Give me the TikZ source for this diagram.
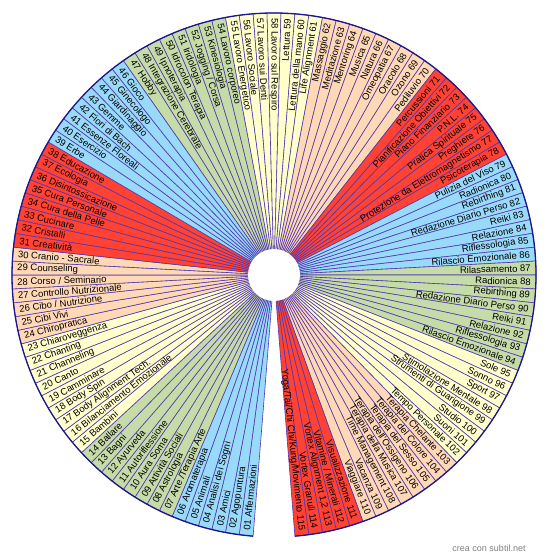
\documentclass[tikz,border=0pt]{standalone}
\usepackage{fontspec}
\setmainfont{Liberation Sans}
\definecolor{cB}{RGB}{153,217,250}
\definecolor{cG}{RGB}{198,220,168}
\definecolor{cY}{RGB}{255,255,204}
\definecolor{cP}{RGB}{255,216,182}
\definecolor{cR}{RGB}{255,66,52}
\definecolor{segline}{RGB}{80,56,176}
\definecolor{rim}{RGB}{28,24,140}
\begin{document}
\def\items{1/cB/{01 Affermazioni},2/cB/{02 Agopuntura},3/cB/{03 Amici},4/cB/{04 Analisi dei Sogni},5/cB/{05 Animali},6/cB/{06 Aromaterapia},
7/cG/{07 Arte /Terapia Arte},8/cG/{08 Astrologia},9/cG/{09 Attività Sociali},10/cG/{10 Aura Soma},11/cG/{11 Autoriflessione},12/cG/{12 Ayurveda},13/cG/{13 Bagni},14/cG/{14 Ballare},
15/cY/{15 Bambini},16/cY/{16 Bilanciamento Emozionale},17/cY/{17 Body Alignment Tech.},18/cY/{18 Body Spin},19/cY/{19 Camminare},20/cY/{20 Canto},21/cY/{21 Channeling},22/cY/{22 Chanting},23/cY/{23 Chiaroveggenza},
24/cP/{24 Chiropratica},25/cP/{25 Cibi Vivi},26/cP/{26 Cibo / Nutrizione},27/cP/{27 Controllo Nutrizionale},28/cP/{28 Corso / Seminario},29/cP/{29 Counseling},30/cP/{30 Cranio - Sacrale},
31/cR/{31 Creatività},32/cR/{32 Cristalli},33/cR/{33 Cucinare},34/cR/{34 Cura della Pelle},35/cR/{35 Cura Personale},36/cR/{36 Disintossicazione},37/cR/{37 Ecologia},38/cR/{38 Educazione},
39/cB/{39 Erbe},40/cB/{40 Esercizio},41/cB/{41 Essenze Floreali},42/cB/{42 Fiori di Bach},43/cB/{43 Gemme},44/cB/{44 Giardinaggio},45/cB/{45 Ginecologo},46/cB/{46 Gioco},
47/cG/{47 Hobby},48/cG/{48 Integrazione Cerebrale},49/cG/{49 Ipnoterapia},50/cG/{50 Idrocolon Terapia},51/cG/{51 Iridologia},52/cG/{52 Jogging / Corsa},53/cG/{53 Kinesiologia},54/cG/{54 Lavoro corporeo},
55/cY/{55 Lavoro Energetico},56/cY/{56 Lavoro Sociale},57/cY/{57 Lavoro sui Denti},58/cY/{58 Lavoro sul Respiro},59/cY/{Lettura 59},60/cY/{Lettura della mano 60},61/cY/{Life Alignment 61},
62/cP/{Massaggio 62},63/cP/{Meditazione 63},64/cP/{Mentoring 64},65/cP/{Musica 65},66/cP/{Natura 66},67/cP/{Omeopatia 67},68/cP/{Oracolo 68},69/cP/{Ozono 69},70/cP/{Pediluvio 70},
71/cR/{Percussioni 71},72/cR/{Pianificazione Obiettivi 72},73/cR/{Piano Finanziario 73},74/cR/{P.N.L. 74},75/cR/{Pratica Spirituale 75},76/cR/{Preghiere 76},77/cR/{Protezione da Elettromagnetismo 77},78/cR/{Psicoterapia 78},
79/cB/{Pulizia del Viso 79},80/cB/{Radionica 80},81/cB/{Rebirthing 81},82/cB/{Redazione Diario Perso 82},83/cB/{Reiki 83},84/cB/{Relazione 84},85/cB/{Riflessologia 85},86/cB/{Rilascio Emozionale 86},
87/cG/{Rilassamento 87},88/cG/{Radionica 88},89/cG/{Rebirthing 89},90/cG/{Redazione Diario Perso 90},91/cG/{Reiki 91},92/cG/{Relazione 92},93/cG/{Riflessologia 93},94/cG/{Rilascio Emozionale 94},
95/cY/{Sole 95},96/cY/{Sonno 96},97/cY/{Sport 97},98/cY/{Stimolazione Mentale 98},99/cY/{Strumenti di Guarigione 99},100/cY/{Studio 100},101/cY/{Suoni 101},102/cY/{Tempo Personale 102},
103/cP/{Terapia Chelante 103},104/cP/{Terapia del Colore 104},105/cP/{Terapia del Sesso 105},106/cP/{Terapia dell'Ossigeno 106},107/cP/{Terapia della Musica 107},108/cP/{Time Management 108},109/cP/{Vacanza 109},110/cP/{Viaggiare 110},
111/cR/{Visualizzazione 111},112/cR/{Vitamine / Minerali 112},113/cR/{Vortex Alignment 1,2 113},114/cR/{Vortex Granuli 114},115/cR/{Yoga/Tai/Chi Chi/Kung/Movimento 115}}
\begin{tikzpicture}[x=1pt,y=1pt,
  lbl/.style={font=\fontsize{9.5}{11}\selectfont, inner sep=0pt, text=black},
  wedge/.style={draw=segline, line width=0.6pt}]
\useasboundingbox (0,0) rectangle (550,-559);
\fill[white] (0,0) rectangle (550,-559);
\begin{scope}[shift={(274,-275)}]
  \coordinate (ctr) at (0,0);
  \foreach \k/\col/\txt in \items {
    \pgfmathsetmacro\aS{-90-(\k+0.5)*3.0508475}
    \pgfmathsetmacro\aE{-90-(\k+1.5)*3.0508475}
    \filldraw[wedge, fill=\col] (ctr) -- (\aS:262) arc[start angle=\aS, end angle=\aE, radius=262] -- cycle;
  }
  \pgfmathsetmacro\aA{-90-1.5*3.0508475}
  \pgfmathsetmacro\aB{-90-116.5*3.0508475}
  \draw[rim, line width=1.3pt] (\aA:262) arc[start angle=\aA, end angle=\aB, radius=262];
  \foreach \k/\col/\txt in \items {
    \pgfmathsetmacro\aM{-90-(\k+1)*3.0508475}
    \ifnum\k<59
      \node[lbl, rotate=\aM+180, anchor=west] (l\k) at (\aM:257) {\txt};
    \else
      \node[lbl, rotate=\aM, anchor=east] (l\k) at (\aM:257) {\txt};
    \fi
  }
  \fill[white] (ctr) circle (26);
\end{scope}
\node[font=\fontsize{9}{10}\selectfont, text=black!50] (credit) at (489,-548) {crea con subtil.net};
\end{tikzpicture}
\end{document}
